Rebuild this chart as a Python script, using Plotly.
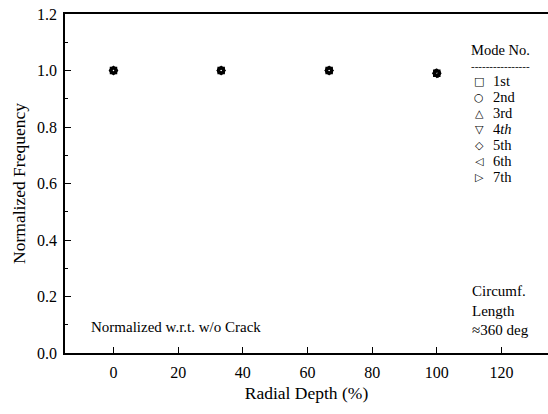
import plotly.graph_objects as go

radial_depth = [0, 33.3, 66.7, 100]
mode_names = ["1st", "2nd", "3rd", "4<i>th</i>", "5th", "6th", "7th"]
mode_symbols = ["square-open", "circle-open", "triangle-up-open", "triangle-down-open",
                "diamond-open", "triangle-left-open", "triangle-right-open"]
mode_glyphs = ["□", "○", "△", "▽", "◇", "◁", "▷"]
freq_1st = [1.0, 1.0, 1.0, 0.99]
freq_2nd = [1.0, 1.0, 1.0, 0.99]
freq_3rd = [1.0, 1.0, 1.0, 0.992]
freq_4th = [1.0, 1.0, 1.0, 0.99]
freq_5th = [1.0, 1.0, 1.0, 0.99]
freq_6th = [1.0, 1.0, 1.0, 0.988]
freq_7th = [1.0, 1.0, 1.0, 0.992]
all_freqs = [freq_1st, freq_2nd, freq_3rd, freq_4th, freq_5th, freq_6th, freq_7th]

x_ticks = [0, 20, 40, 60, 80, 100, 120]
y_ticks = [0.0, 0.2, 0.4, 0.6, 0.8, 1.0, 1.2]

font = "Liberation Serif"
W, H = 548, 414
ML, MR, MT, MB = 65, 0, 14, 61
PW, PH = W - ML - MR, H - MT - MB


def px_x(x):
    return (x - ML) / PW


def px_y(y):
    return (H - MB - y) / PH


fig = go.Figure()
for name, sym, vals in zip(mode_names, mode_symbols, all_freqs):
    fig.add_trace(go.Scatter(
        x=radial_depth, y=vals, mode="markers", name=name, showlegend=False,
        marker=dict(symbol=sym, size=6, color="black", line=dict(width=1.5, color="black")),
        cliponaxis=False,
    ))

annotations = [
    dict(text="Normalized w.r.t. w/o Crack", xref="paper", yref="paper",
         x=px_x(89), y=px_y(327), xanchor="left", yanchor="middle", showarrow=False,
         font=dict(family=font, size=15)),
    dict(text="Circumf.<br>Length<br>≈360 deg", xref="paper", yref="paper",
         x=px_x(470), y=px_y(310), xanchor="left", yanchor="middle", align="left",
         showarrow=False, font=dict(family=font, size=15)),
    dict(text="Mode No.", xref="paper", yref="paper",
         x=px_x(469), y=px_y(50), xanchor="left", yanchor="middle", showarrow=False,
         font=dict(family=font, size=14.5)),
    dict(text="----------------", xref="paper", yref="paper",
         x=px_x(469), y=px_y(66), xanchor="left", yanchor="middle", showarrow=False,
         font=dict(family=font, size=11)),
]
for i, (glyph, name) in enumerate(zip(mode_glyphs, mode_names)):
    yc = 81 + 16 * i
    annotations.append(dict(text=glyph, xref="paper", yref="paper",
                            x=px_x(479), y=px_y(yc), xanchor="center", yanchor="middle",
                            showarrow=False, font=dict(family="DejaVu Sans", size=11)))
    annotations.append(dict(text=name, xref="paper", yref="paper",
                            x=px_x(491), y=px_y(yc), xanchor="left", yanchor="middle",
                            showarrow=False, font=dict(family=font, size=14.5)))

fig.update_layout(
    width=W, height=H,
    margin=dict(l=ML, r=MR, t=MT, b=MB),
    paper_bgcolor="white", plot_bgcolor="white",
    font=dict(family=font, color="black", size=15),
    showlegend=False,
    xaxis=dict(
        range=[-15, 134.4], tickvals=x_ticks, ticktext=[str(v) for v in x_ticks],
        ticks="inside", ticklen=6, tickwidth=1.2, tickcolor="black",
        showline=True, linewidth=1.5, linecolor="black", mirror=True,
        showgrid=False, zeroline=False, ticklabelstandoff=4,
        tickfont=dict(family=font, size=16),
        title=dict(text="Radial Depth (%)", font=dict(family=font, size=17.5), standoff=7),
    ),
    yaxis=dict(
        range=[0, 1.2], tickvals=y_ticks, ticktext=[f"{v:.1f}" for v in y_ticks],
        ticks="inside", ticklen=6, tickwidth=1.2, tickcolor="black",
        minor=dict(dtick=0.1, ticks="inside", ticklen=3, tickwidth=1, tickcolor="black"),
        showline=True, linewidth=1.5, linecolor="black", mirror=False,
        showgrid=False, zeroline=False, ticklabelstandoff=3,
        tickfont=dict(family=font, size=16),
        title=dict(text="Normalized Frequency", font=dict(family=font, size=17.5), standoff=7),
    ),
    annotations=annotations,
)

fig.write_html("out.html")
